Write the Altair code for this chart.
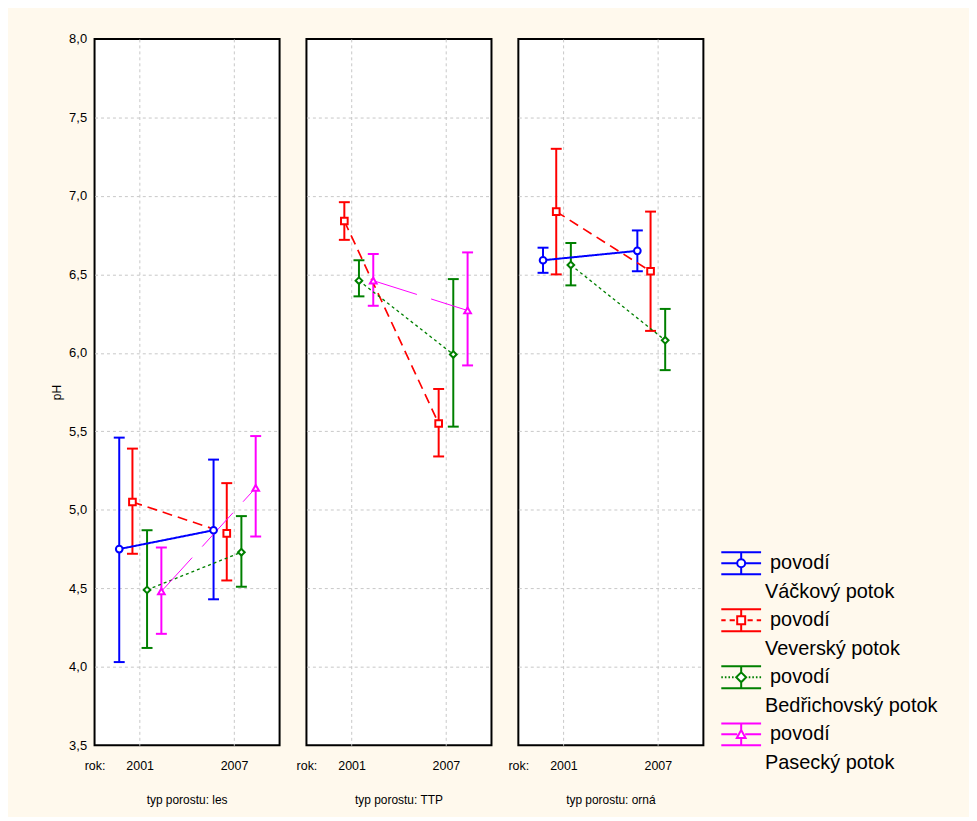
import altair as alt
import pandas as pd

FONT = "Liberation Sans"

# ---- data ----
series = ["Váčkový potok", "Veverský potok", "Bedřichovský potok", "Pasecký potok"]
colors = ["#0000FF", "#FF0000", "#008000", "#FF00FF"]
typ_order = ["les", "TTP", "orná"]

typ = ["les"] * 8 + ["TTP"] * 6 + ["orná"] * 6
povodi = (
    ["Váčkový potok"] * 2 + ["Veverský potok"] * 2 + ["Bedřichovský potok"] * 2 + ["Pasecký potok"] * 2
    + ["Veverský potok"] * 2 + ["Bedřichovský potok"] * 2 + ["Pasecký potok"] * 2
    + ["Váčkový potok"] * 2 + ["Veverský potok"] * 2 + ["Bedřichovský potok"] * 2
)
rok = [2001, 2007] * 10
mean = [4.75, 4.87, 5.05, 4.85, 4.49, 4.73, 4.48, 5.14,
        6.84, 5.55, 6.46, 5.99, 6.46, 6.27,
        6.59, 6.65, 6.90, 6.52, 6.56, 6.08]
lower = [4.03, 4.43, 4.72, 4.55, 4.12, 4.51, 4.21, 4.83,
         6.72, 5.34, 6.36, 5.53, 6.30, 5.92,
         6.51, 6.52, 6.50, 6.14, 6.43, 5.89]
upper = [5.46, 5.32, 5.39, 5.17, 4.87, 4.96, 4.76, 5.47,
         6.96, 5.77, 6.59, 6.47, 6.63, 6.64,
         6.67, 6.78, 7.30, 6.90, 6.70, 6.28]

y_ticks = [3.5, 4.0, 4.5, 5.0, 5.5, 6.0, 6.5, 7.0, 7.5, 8.0]

# ---- style ----
dodge = dict(zip(series, [-1.3, -0.46, 0.47, 1.38]))   # horizontal dodge in years
x_domain = [1998.13, 2009.9]
shapes = ["circle", "square", "diamond", "triangle-up"]
dashes = [[1, 0], [10, 6], [3, 3], [46, 15]]
widths = [2, 1, 2, 1]

legend_paths = [
    # Váčkový: solid middle line + circle
    "M-1,-0.55H1M-1,0.55H1M0,-0.55V-0.2M0,0.2V0.55M-1,0H-0.2M0.2,0H1"
    "M-0.2,0A0.2,0.2 0 1,0 0.2,0A0.2,0.2 0 1,0 -0.2,0Z",
    # Veverský: dashed middle line + square
    "M-1,-0.55H1M-1,0.55H1M0,-0.55V-0.2M0,0.2V0.55"
    "M-1,0H-0.78M-0.58,0H-0.32M0.32,0H0.58M0.78,0H1"
    "M-0.2,-0.2H0.2V0.2H-0.2Z",
    # Bedřichovský: dotted middle line + diamond
    "M-1,-0.55H1M-1,0.55H1M0,-0.55V-0.25M0,0.25V0.55"
    "M-1,0H-0.92M-0.82,0H-0.74M-0.64,0H-0.56M-0.46,0H-0.38"
    "M0.38,0H0.46M0.56,0H0.64M0.74,0H0.82M0.92,0H1"
    "M-0.25,0L0,-0.25L0.25,0L0,0.25Z",
    # Pasecký: thin middle line + triangle
    "M-1,-0.55H1M-1,0.55H1M0,-0.55V-0.22M0,0.18V0.55M-1,0H-0.2M0.2,0H1"
    "M0,-0.22L0.22,0.18H-0.22Z",
]

df = pd.DataFrame({"typ": typ, "povodi": povodi, "rok": rok,
                   "mean": mean, "lower": lower, "upper": upper})
df["xpos"] = df["rok"] + df["povodi"].map(dodge)

color_scale = alt.Scale(domain=series, range=colors)
grid_color = "#C8C8C8"

x_enc = alt.X(
    "xpos:Q",
    title=None,
    scale=alt.Scale(domain=x_domain, nice=False, zero=False),
    axis=alt.Axis(values=[x_domain[0], 2001, 2007],
                  labelExpr="datum.value < 2000 ? 'rok:' : format(datum.value, 'd')",
                  labelFlush=False, ticks=False, tickSize=0, domain=False,
                  grid=True, gridDash=[3, 3], gridColor=grid_color,
                  gridOpacity={"condition": {"test": "datum.value < 2000", "value": 0}, "value": 1},
                  labelFontSize=12.5, labelPadding=13, labelColor="black"),
)
y_scale = alt.Scale(domain=[3.5, 8.0], nice=False, zero=False)
y_axis = alt.Axis(values=y_ticks, title="pH",
                  labelExpr="replace(format(datum.value, '.1f'), '.', ',')",
                  ticks=False, tickSize=0, domain=False, grid=True,
                  gridDash=[3, 3], gridColor=grid_color,
                  gridOpacity={"condition": {"test": "datum.value < 3.6 || datum.value > 7.9",
                                             "value": 0}, "value": 1},
                  labelFontSize=13, labelPadding=7, labelColor="black",
                  titleFontSize=12, titleFontWeight="normal", titlePadding=5,
                  titleColor="black")
color_enc = alt.Color("povodi:N", scale=color_scale, legend=None)

base = alt.Chart().encode(x=x_enc, color=color_enc)

bars = base.mark_rule(strokeWidth=2, opacity=1).encode(
    y=alt.Y("lower:Q", scale=y_scale, axis=y_axis), y2="upper:Q")
cap_hi = base.mark_tick(orient="horizontal", thickness=2, size=11, opacity=1).encode(
    y=alt.Y("upper:Q", scale=y_scale))
cap_lo = base.mark_tick(orient="horizontal", thickness=2, size=11, opacity=1).encode(
    y=alt.Y("lower:Q", scale=y_scale))
lines = base.mark_line(opacity=1).encode(
    y=alt.Y("mean:Q", scale=y_scale),
    strokeDash=alt.StrokeDash("povodi:N", scale=alt.Scale(domain=series, range=dashes), legend=None),
    strokeWidth=alt.StrokeWidth("povodi:N", scale=alt.Scale(domain=series, range=widths), legend=None),
    order="rok:Q",
)
points = base.mark_point(filled=False, fill="white", opacity=1, strokeWidth=2, size=45).encode(
    y=alt.Y("mean:Q", scale=y_scale),
    shape=alt.Shape("povodi:N", scale=alt.Scale(domain=series, range=shapes), legend=None),
)

panels = alt.layer(bars, cap_hi, cap_lo, lines, points, data=df).properties(
    width=186, height=710
).facet(
    column=alt.Column("typ:N", sort=typ_order, title=None,
                      header=alt.Header(labelOrient="bottom",
                                        labelExpr="'typ porostu: ' + datum.value",
                                        labelFontSize=12, labelFont=FONT,
                                        labelColor="black", labelPadding=24)),
    spacing=25,
)

# ---- legend (right side) ----
leg_df = pd.DataFrame({"povodi": series})
leg_y = alt.Y("povodi:N", axis=None,
              scale=alt.Scale(type="point", domain=series, range=[527, 699], padding=0))
leg_base = alt.Chart(leg_df).encode(y=leg_y)
leg_sym = leg_base.mark_point(filled=False, fill="white", opacity=1,
                              strokeWidth=2, size=1600).encode(
    x=alt.value(26),
    color=color_enc,
    shape=alt.Shape("povodi:N", scale=alt.Scale(domain=series, range=legend_paths), legend=None),
)
leg_t1 = leg_base.mark_text(align="left", baseline="middle", fontSize=20,
                            font=FONT, color="black").encode(
    x=alt.value(55), text=alt.value("povodí"))
leg_t2 = leg_base.mark_text(align="left", baseline="middle", fontSize=20,
                            font=FONT, color="black", dy=29).encode(
    x=alt.value(50), text="povodi:N")
legend = alt.layer(leg_sym, leg_t1, leg_t2).properties(
    width=250, height=710,
    view=alt.ViewBackground(stroke="transparent", fill="transparent"),
)

chart = alt.hconcat(panels, legend, spacing=10).resolve_scale(
    shape="independent"
).properties(
    background="#FFF9ED",
    padding={"left": 42, "top": 23, "right": 4, "bottom": 8},
).configure(font=FONT).configure_view(stroke="black", strokeWidth=2, fill="white")

chart.save("out.html", embed_options={"renderer": "svg", "actions": False})
